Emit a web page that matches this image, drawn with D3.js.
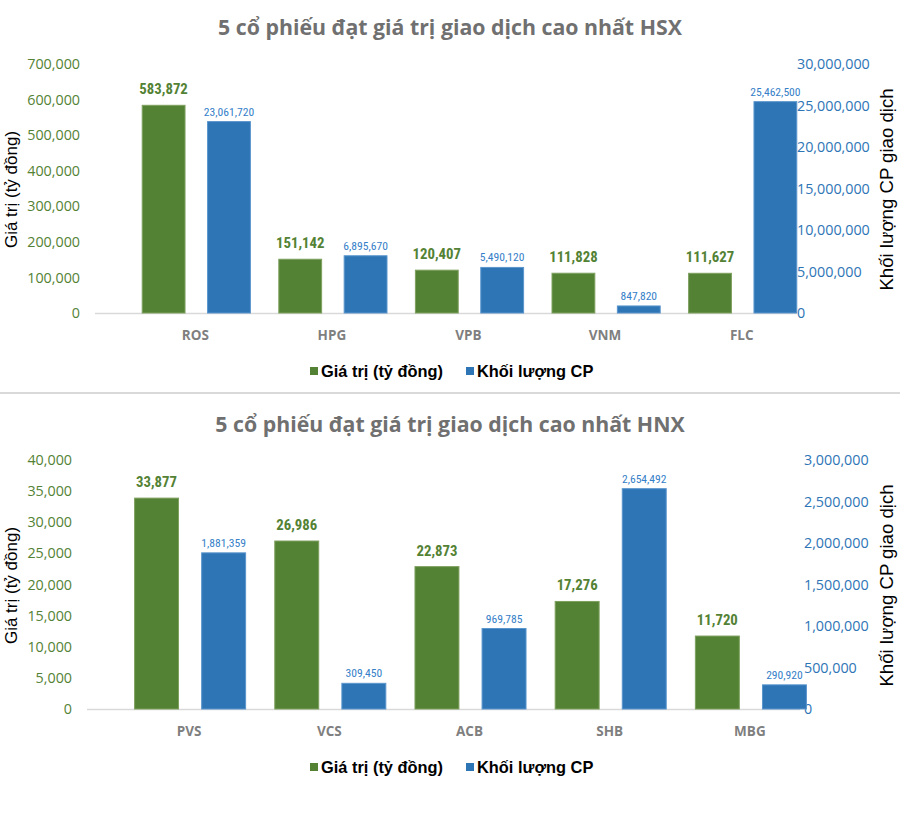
<!DOCTYPE html>
<html>
<head>
<meta charset="utf-8">
<script src="https://cdn.jsdelivr.net/npm/d3@7"></script>
<style>
  html, body { margin: 0; padding: 0; background: #ffffff; }
  svg { display: block; }
</style>
</head>
<body>
<svg id="chart" width="900" height="818"></svg>
<script>
// ---- Data ----
const seriesNames = ["Giá trị (tỷ đồng)", "Khối lượng CP"];

const hsxTitle = "5 cổ phiếu đạt giá trị giao dịch cao nhất HSX";
const hsxCategories = ["ROS", "HPG", "VPB", "VNM", "FLC"];
const hsxValue = [583872, 151142, 120407, 111828, 111627];
const hsxVolume = [23061720, 6895670, 5490120, 847820, 25462500];
const hsxValueTicks = [0, 100000, 200000, 300000, 400000, 500000, 600000, 700000];
const hsxVolumeTicks = [0, 5000000, 10000000, 15000000, 20000000, 25000000, 30000000];

const hnxTitle = "5 cổ phiếu đạt giá trị giao dịch cao nhất HNX";
const hnxCategories = ["PVS", "VCS", "ACB", "SHB", "MBG"];
const hnxValue = [33877, 26986, 22873, 17276, 11720];
const hnxVolume = [1881359, 309450, 969785, 2654492, 290920];
const hnxValueTicks = [0, 5000, 10000, 15000, 20000, 25000, 30000, 35000, 40000];
const hnxVolumeTicks = [0, 500000, 1000000, 1500000, 2000000, 2500000, 3000000];

const leftAxisTitle = "Giá trị (tỷ đồng)";
const rightAxisTitle = "Khối lượng CP giao dịch";

// ---- Styles ----
const GREEN = "#548235";
const BLUE = "#2E75B6";
const BLUE_TXT = "#3580c8";
const fmt = d3.format(",");
const svg = d3.select("#chart");

function drawChart(cfg) {
  const g = svg.append("g");
  const yL = d3.scaleLinear().domain([0, d3.max(cfg.valueTicks)]).range([cfg.base, cfg.top]);
  const yR = d3.scaleLinear().domain([0, d3.max(cfg.volumeTicks)]).range([cfg.base, cfg.top]);
  const x0 = d3.scaleBand().domain(cfg.categories).range(cfg.bandRange).padding(0);
  const bw = x0.bandwidth();
  const x1 = d3.scaleBand().domain(seriesNames).range([bw * 0.104, bw * 0.896]).paddingInner(0.345).paddingOuter(0);

  // title
  g.append("text")
    .attr("x", 450).attr("y", cfg.titleY)
    .attr("text-anchor", "middle")
    .attr("font-family", "'Open Sans', sans-serif")
    .attr("font-weight", "bold")
    .attr("font-size", 21.3)
    .attr("fill", "#707070")
    .text(cfg.title);

  // baseline
  g.append("line")
    .attr("x1", cfg.lineX[0]).attr("x2", cfg.lineX[1])
    .attr("y1", cfg.base + 0.5).attr("y2", cfg.base + 0.5)
    .attr("stroke", "#d9d9d9").attr("stroke-width", 1.5);

  // left axis
  const axL = g.append("g").attr("transform", `translate(${cfg.leftX},0)`)
    .call(d3.axisLeft(yL).tickValues(cfg.valueTicks).tickFormat(fmt).tickSize(0).tickPadding(0));
  axL.select(".domain").remove();
  axL.selectAll("text")
    .attr("font-family", "'Open Sans', sans-serif")
    .attr("font-size", 14.3)
    .attr("fill", GREEN);

  // right axis
  const axR = g.append("g").attr("transform", `translate(${cfg.rightX},0)`)
    .call(d3.axisRight(yR).tickValues(cfg.volumeTicks).tickFormat(fmt).tickSize(0).tickPadding(0));
  axR.select(".domain").remove();
  axR.selectAll("text")
    .attr("font-family", "'Open Sans', sans-serif")
    .attr("font-size", 14.3)
    .attr("fill", BLUE);

  // axis titles
  const midY = (cfg.base + cfg.top) / 2;
  g.append("text")
    .attr("transform", `translate(${cfg.leftTitleX},${midY + cfg.titleShift}) rotate(-90)`)
    .attr("text-anchor", "middle")
    .attr("font-family", "'Liberation Sans', Arial, sans-serif")
    .attr("font-size", 17)
    .attr("fill", "#000")
    .text(leftAxisTitle);
  g.append("text")
    .attr("transform", `translate(${cfg.rightTitleX},${midY + cfg.titleShift}) rotate(-90)`)
    .attr("text-anchor", "middle")
    .attr("font-family", "'Liberation Sans', Arial, sans-serif")
    .attr("font-size", 18.6)
    .attr("fill", "#000")
    .text(rightAxisTitle);

  // category labels
  g.selectAll(".cat").data(cfg.categories).join("text")
    .attr("x", d => x0(d) + bw / 2 - 1)
    .attr("y", cfg.base + 27)
    .attr("text-anchor", "middle")
    .attr("font-family", "'Open Sans', sans-serif")
    .attr("font-weight", "bold")
    .attr("font-size", 13.5)
    .attr("fill", "#7f7f7f")
    .text(d => d);

  const rows = cfg.categories.map((c, i) => ({ cat: c, value: cfg.values[i], volume: cfg.volumes[i] }));
  const groups = g.selectAll(".grp").data(rows).join("g")
    .attr("transform", d => `translate(${x0(d.cat)},0)`);

  // value bars
  groups.append("rect")
    .attr("x", x1(seriesNames[0]))
    .attr("width", x1.bandwidth())
    .attr("y", d => yL(d.value))
    .attr("height", d => yL(0) - yL(d.value))
    .attr("fill", GREEN)
    .attr("stroke", "#7ea05f").attr("stroke-width", 1);
  // volume bars
  groups.append("rect")
    .attr("x", x1(seriesNames[1]))
    .attr("width", x1.bandwidth())
    .attr("y", d => yR(d.volume))
    .attr("height", d => yR(0) - yR(d.volume))
    .attr("fill", BLUE)
    .attr("stroke", "#5a95cc").attr("stroke-width", 1);

  // data labels
  groups.append("text")
    .attr("x", x1(seriesNames[0]) + x1.bandwidth() / 2)
    .attr("y", d => yL(d.value) - 11)
    .attr("text-anchor", "middle")
    .attr("font-family", "'Roboto Condensed', Roboto, sans-serif")
    .attr("font-weight", "bold")
    .attr("font-size", 14.8)
    .attr("fill", GREEN)
    .text(d => fmt(d.value));
  groups.append("text")
    .attr("x", x1(seriesNames[1]) + x1.bandwidth() / 2)
    .attr("y", d => yR(d.volume) - 6)
    .attr("text-anchor", "middle")
    .attr("font-family", "'Roboto Condensed', Roboto, sans-serif")
    .attr("font-size", 11.6)
    .attr("fill", BLUE_TXT)
    .text(d => fmt(d.volume));

  // legend
  const lg = g.append("g");
  const items = [
    { name: seriesNames[0], color: GREEN, x: 310 },
    { name: seriesNames[1], color: BLUE, x: 466 }
  ];
  items.forEach(it => {
    lg.append("rect").attr("x", it.x).attr("y", cfg.legendY - 4).attr("width", 8).attr("height", 8).attr("fill", it.color);
    lg.append("text")
      .attr("x", it.x + 11).attr("y", cfg.legendY + 5.5)
      .attr("font-family", "'Liberation Sans', Arial, sans-serif")
      .attr("font-weight", "bold")
      .attr("font-size", 16.4)
      .attr("fill", "#000")
      .text(it.name);
  });
}

drawChart({
  title: hsxTitle, titleY: 35,
  categories: hsxCategories, values: hsxValue, volumes: hsxVolume,
  valueTicks: hsxValueTicks, volumeTicks: hsxVolumeTicks,
  base: 313, top: 64, bandRange: [128, 811], lineX: [95, 797],
  leftX: 80, rightX: 797, leftTitleX: 17, rightTitleX: 893, titleShift: 1,
  legendY: 371
});

// separator
svg.append("line").attr("x1", 0).attr("x2", 900).attr("y1", 393).attr("y2", 393)
  .attr("stroke", "#d9d9d9").attr("stroke-width", 2);

drawChart({
  title: hnxTitle, titleY: 432,
  categories: hnxCategories, values: hnxValue, volumes: hnxVolume,
  valueTicks: hnxValueTicks, volumeTicks: hnxVolumeTicks,
  base: 709, top: 460, bandRange: [120, 821], lineX: [87, 800],
  leftX: 72, rightX: 804, leftTitleX: 17, rightTitleX: 893, titleShift: 1,
  legendY: 767
});
</script>
</body>
</html>
